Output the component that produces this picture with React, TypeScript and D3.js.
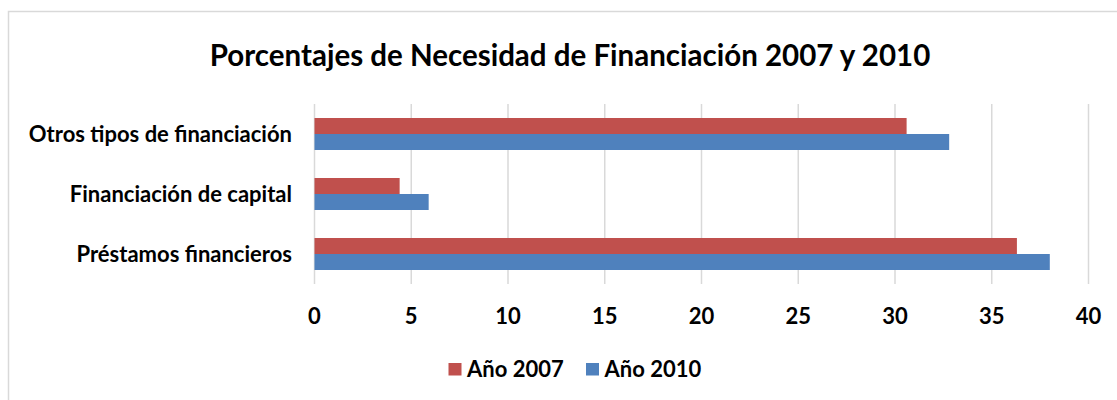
import * as d3 from "d3";
import { useEffect, useRef } from "react";

const categories = [
  "Otros tipos de financiación",
  "Financiación de capital",
  "Préstamos financieros",
];
const seriesNames = ["Año 2007", "Año 2010"];
const values2007 = [30.6, 4.4, 36.3];
const values2010 = [32.8, 5.9, 38.0];
const xTicks = [0, 5, 10, 15, 20, 25, 30, 35, 40];
const colors = ["#C0504D", "#4F81BD"];

const width = 1117;
const height = 400;
const font = "Lato, 'Open Sans', sans-serif";

const App = () => {
  const ref = useRef<SVGSVGElement | null>(null);

  useEffect(() => {
    if (!ref.current) return;
    const svg = d3.select(ref.current);
    svg.selectAll("*").remove();

    const plot = { left: 314.5, right: 1088.5, top: 104, bottom: 284 };
    const x = d3.scaleLinear().domain([0, 40]).range([plot.left, plot.right]);
    const y = d3
      .scaleBand<string>()
      .domain(categories)
      .range([plot.top, plot.bottom])
      .paddingInner(0.4667)
      .paddingOuter(0.2333);
    const ySub = d3
      .scaleBand<string>()
      .domain(seriesNames)
      .range([0, y.bandwidth()]);

    // chart border
    svg
      .append("rect")
      .attr("x", 8.5)
      .attr("y", 11.5)
      .attr("width", width)
      .attr("height", height)
      .attr("fill", "white")
      .attr("stroke", "#d9d9d9")
      .attr("stroke-width", 1.5);

    svg
      .append("text")
      .attr("x", 570)
      .attr("y", 66)
      .attr("text-anchor", "middle")
      .attr("font-family", font)
      .attr("font-weight", "bold")
      .attr("font-size", 29.5)
      .text("Porcentajes de Necesidad de Financiación 2007 y 2010");

    // gridlines
    svg
      .append("g")
      .selectAll("line")
      .data(xTicks)
      .join("line")
      .attr("x1", (d) => x(d))
      .attr("x2", (d) => x(d))
      .attr("y1", plot.top)
      .attr("y2", plot.bottom)
      .attr("stroke", "#d9d9d9")
      .attr("stroke-width", 1.5);

    const rows = categories.map((c, i) => ({
      c,
      vals: [values2007[i], values2010[i]],
    }));

    const g = svg
      .append("g")
      .selectAll("g")
      .data(rows)
      .join("g")
      .attr("transform", (d) => `translate(0,${y(d.c)})`);

    g.selectAll("rect")
      .data((d) => d.vals.map((v, j) => ({ v, s: seriesNames[j], j })))
      .join("rect")
      .attr("x", x(0))
      .attr("y", (d) => ySub(d.s)!)
      .attr("width", (d) => x(d.v) - x(0))
      .attr("height", ySub.bandwidth())
      .attr("fill", (d) => colors[d.j]);

    // category labels
    svg
      .append("g")
      .selectAll("text")
      .data(categories)
      .join("text")
      .attr("x", 292)
      .attr("y", (d) => y(d)! + y.bandwidth() / 2)
      .attr("dy", "0.35em")
      .attr("text-anchor", "end")
      .attr("font-family", font)
      .attr("font-weight", "bold")
      .attr("font-size", 22)
      .text((d) => d);

    // x tick labels
    svg
      .append("g")
      .selectAll("text")
      .data(xTicks)
      .join("text")
      .attr("x", (d) => x(d))
      .attr("y", 316.5)
      .attr("dy", "0.35em")
      .attr("text-anchor", "middle")
      .attr("font-family", font)
      .attr("font-weight", "bold")
      .attr("font-size", 22)
      .text((d) => d);

    // legend
    const legendX = [448.5, 586];
    const lg = svg
      .append("g")
      .selectAll("g")
      .data(seriesNames)
      .join("g")
      .attr("transform", (_, i) => `translate(${legendX[i]},369.5)`);
    lg.append("rect")
      .attr("x", 0)
      .attr("y", -6.5)
      .attr("width", 13)
      .attr("height", 12.5)
      .attr("fill", (_, i) => colors[i]);
    lg.append("text")
      .attr("x", 18.5)
      .attr("dy", "0.35em")
      .attr("font-family", font)
      .attr("font-weight", "bold")
      .attr("font-size", 22)
      .text((d) => d);
  }, []);

  return (
    <svg
      ref={ref}
      width={width}
      height={height}
      style={{ position: "absolute", left: 0, top: 0, display: "block" }}
    />
  );
};

export default App;
